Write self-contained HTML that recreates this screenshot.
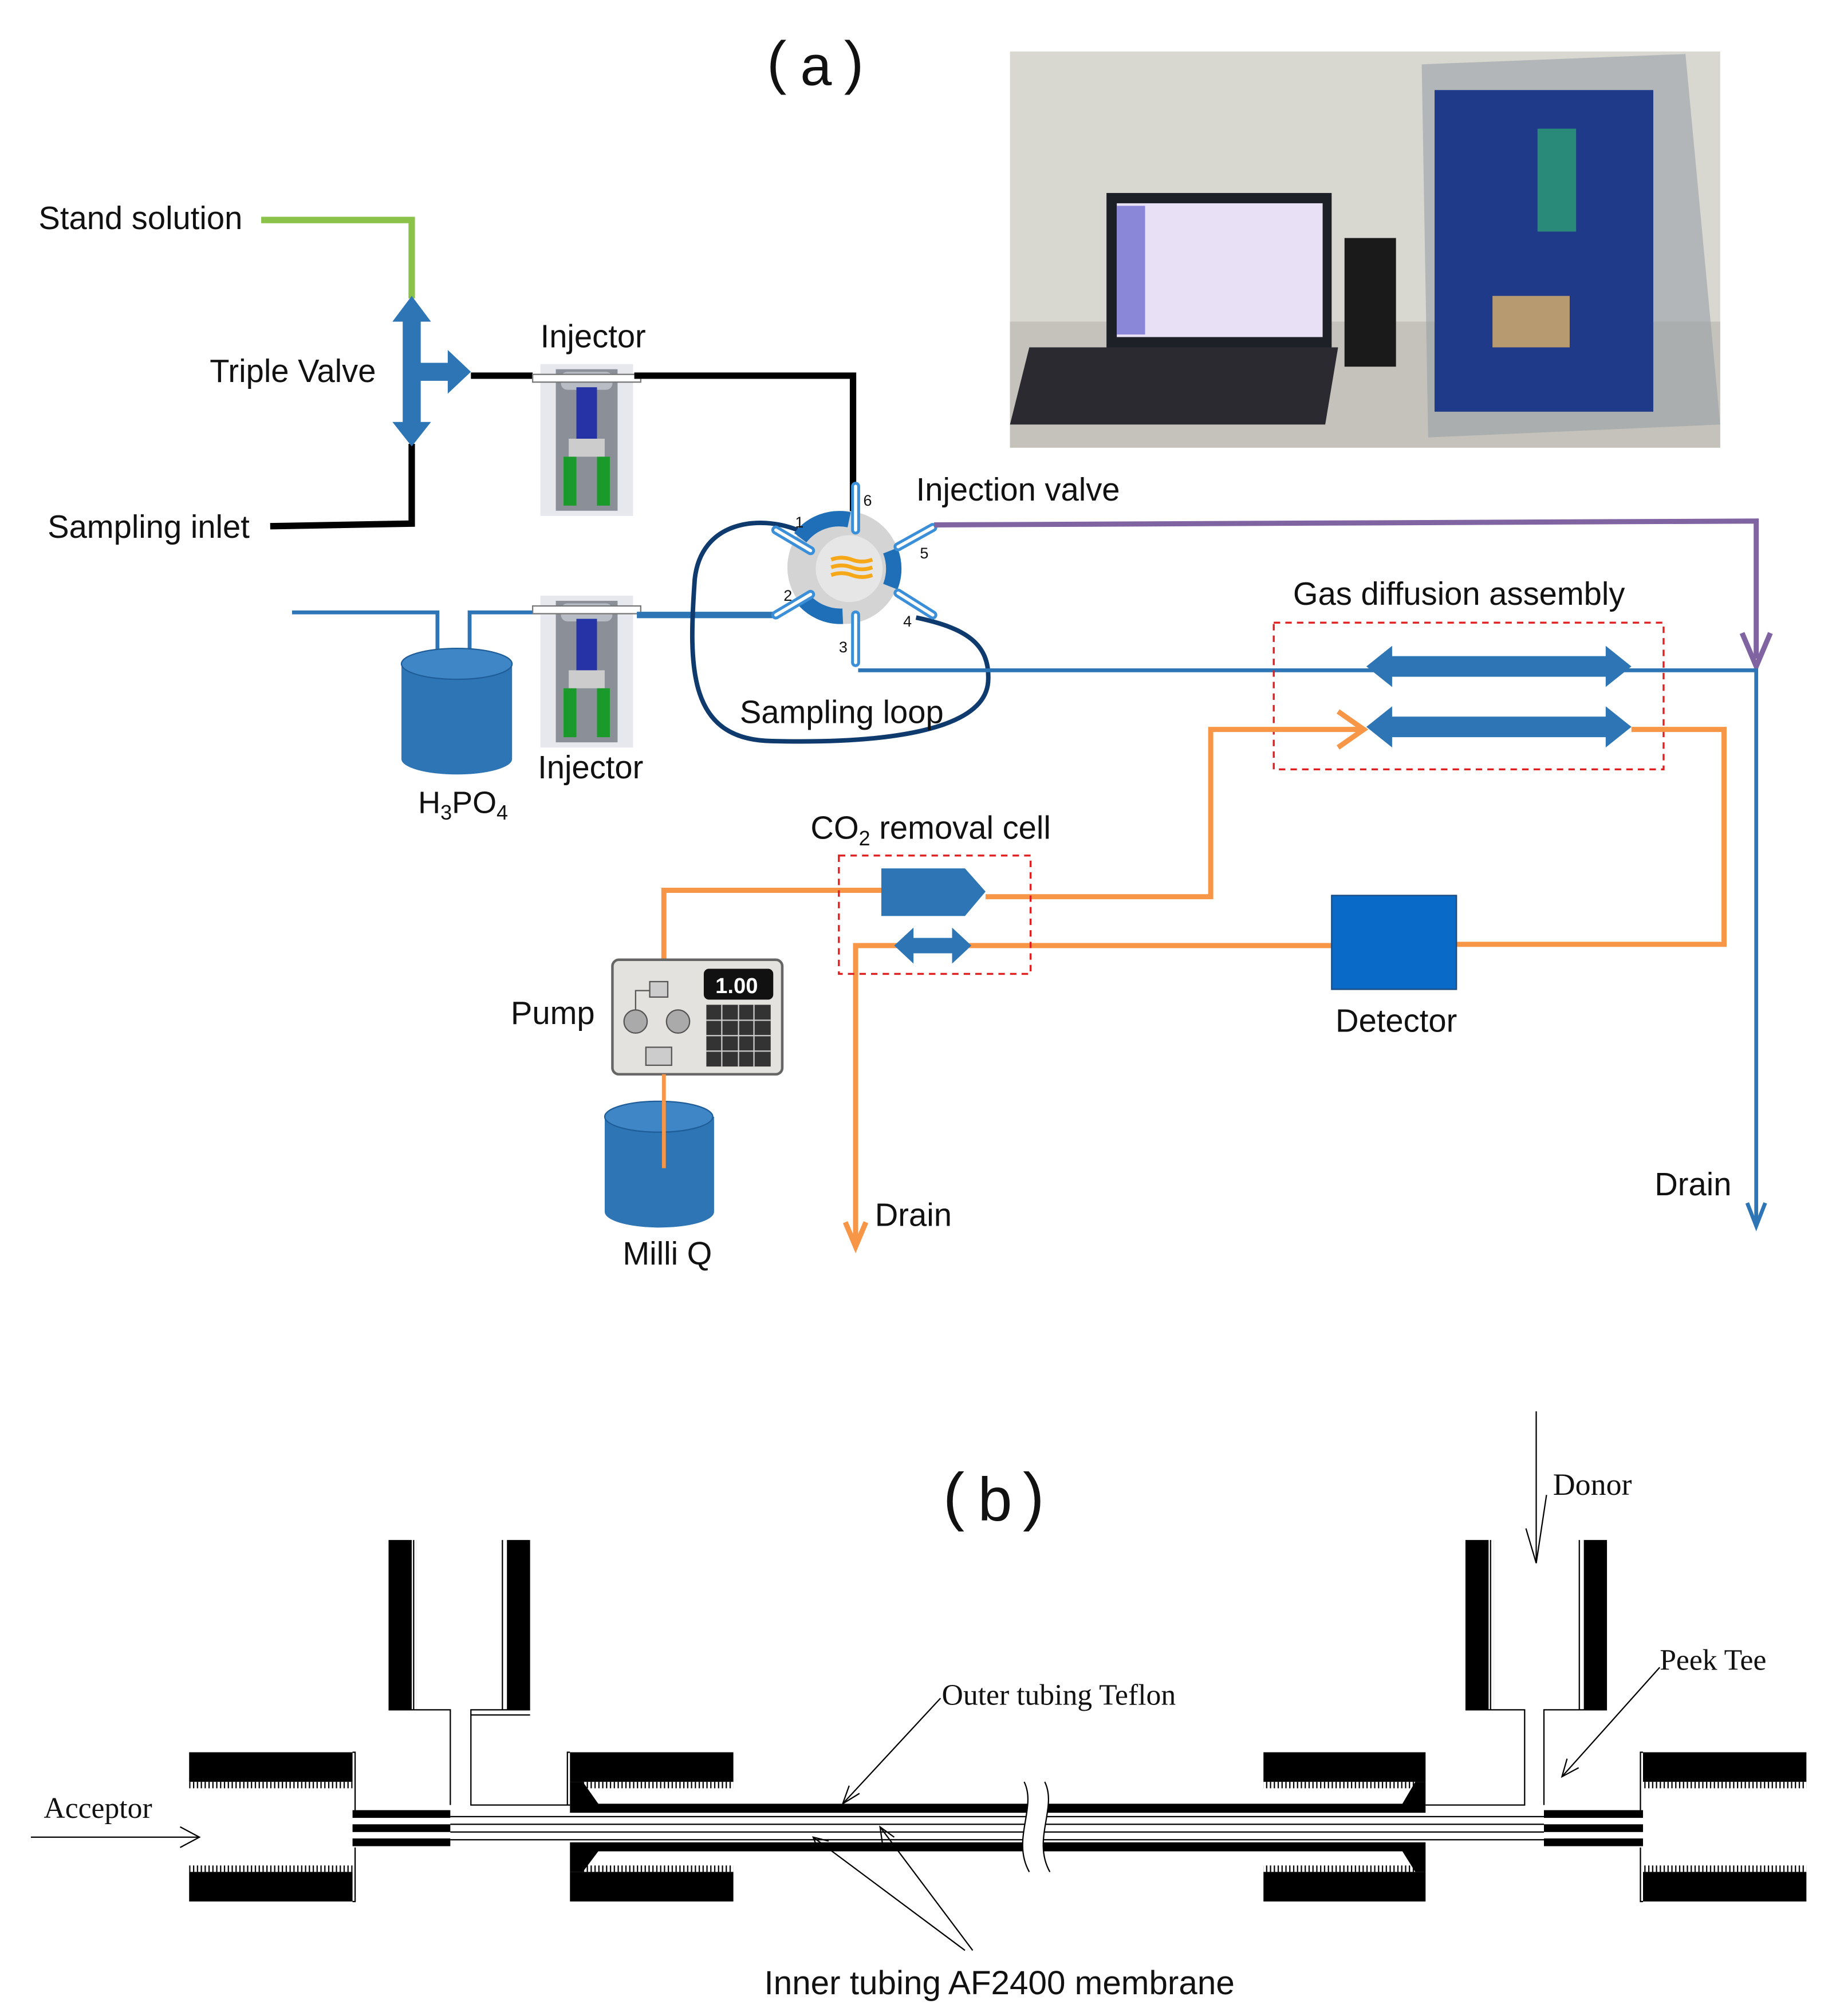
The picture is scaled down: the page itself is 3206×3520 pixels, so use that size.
<!DOCTYPE html>
<html><head><meta charset="utf-8"><style>
html,body{margin:0;padding:0;background:#fff;}
svg{display:block}
.s{font-family:"Liberation Sans","DejaVu Sans",sans-serif;fill:#111}
.r{font-family:"Liberation Serif",serif;fill:#111}
</style></head><body>
<svg width="3206" height="3520" viewBox="0 0 1427 1567" preserveAspectRatio="none" xmlns="http://www.w3.org/2000/svg">
<defs>
<pattern id="hatch" width="3" height="8" patternUnits="userSpaceOnUse"><rect width="1" height="8" fill="#000"/></pattern>
<g id="inj">
<rect x="0" y="0" width="72" height="118" fill="#e6e8ee"/>
<rect x="12" y="4" width="48" height="110" fill="#8a8f98"/>
<rect x="16" y="6" width="40" height="14" rx="5" fill="#b8bcc4"/>
<rect x="-6" y="8" width="84" height="6" fill="#fff" stroke="#777"/>
<rect x="28" y="18" width="16" height="42" fill="#2633a6"/>
<rect x="22" y="58" width="28" height="14" fill="#ccc"/>
<rect x="18" y="72" width="10" height="38" fill="#1a9a2a"/>
<rect x="44" y="72" width="10" height="38" fill="#1a9a2a"/>
</g>
</defs>

<text x="596" y="64" class="s" font-size="46">(</text>
<text x="622" y="66" class="s" font-size="44">a</text>
<text x="656" y="64" class="s" font-size="46">)</text>

<rect x="785" y="40" width="552" height="308" fill="#d9d8d0"/>
<rect x="785" y="250" width="552" height="98" fill="#c4c2ba"/>
<rect x="860" y="150" width="175" height="120" fill="#1e2028"/>
<rect x="868" y="158" width="160" height="104" fill="#e8e0f5"/>
<rect x="868" y="160" width="22" height="100" fill="#8a86d8"/>
<polygon points="800,270 1040,270 1030,330 785,330" fill="#2a2a30"/>
<rect x="1045" y="185" width="40" height="100" fill="#1a1a1a"/>
<polygon points="1105,50 1310,42 1337,330 1110,340" fill="#9aa0a8" opacity="0.6"/>
<rect x="1115" y="70" width="170" height="250" fill="#1e3a88"/>
<rect x="1195" y="100" width="30" height="80" fill="#2a8a7a"/>
<rect x="1160" y="230" width="60" height="40" fill="#b89a70"/>

<text x="30" y="178" class="s" font-size="25">Stand solution</text>
<polyline points="203,171 320,171 320,232" fill="none" stroke="#8bc34a" stroke-width="5"/>
<text x="37" y="418" class="s" font-size="25">Sampling inlet</text>
<polyline points="210,409 320,407 320,345" fill="none" stroke="#000" stroke-width="5"/>
<text x="163" y="297" class="s" font-size="25">Triple Valve</text>
<g fill="#2e75b6">
<rect x="313" y="245" width="14" height="88"/>
<polygon points="320,230 305,250 335,250"/>
<polygon points="320,347 305,328 335,328"/>
<rect x="325" y="282" width="25" height="14"/>
<polygon points="366,289 348,272 348,306"/>
</g>
<polyline points="366,292 414,292" fill="none" stroke="#000" stroke-width="5"/>
<text x="420" y="270" class="s" font-size="25">Injector</text>
<use href="#inj" x="420" y="283"/>
<polyline points="493,292 663,292 663,405" fill="none" stroke="#000" stroke-width="5"/>

<polyline points="227,476 340,476 340,556" fill="none" stroke="#2e75b6" stroke-width="3"/>
<polyline points="420,476 365,476 365,556" fill="none" stroke="#2e75b6" stroke-width="3"/>
<path d="M312,516 L312,590 A43,12 0 0 0 398,590 L398,516 Z" fill="#2e75b6"/>
<ellipse cx="355" cy="516" rx="43" ry="12" fill="#3e86c6" stroke="#1f5d99"/>
<text x="325" y="632" class="s" font-size="24">H<tspan font-size="16" dy="5">3</tspan><tspan dy="-5">PO</tspan><tspan font-size="16" dy="5">4</tspan></text>
<use href="#inj" x="420" y="463"/>
<text x="418" y="605" class="s" font-size="25">Injector</text>
<line x1="495" y1="478" x2="605" y2="478" stroke="#2e75b6" stroke-width="5"/>

<path d="M620,412 C590,400 545,405 540,450 C535,520 535,575 600,576 C680,578 765,570 768,530 C770,500 750,488 712,480" fill="none" stroke="#0e3a6e" stroke-width="3.5"/>
<text x="575" y="562" class="s" font-size="25">Sampling loop</text>

<circle cx="656" cy="441" r="44" fill="#d4d4d4"/>
<path d="M622,418 A38,38 0 0 1 660,404" stroke="#1f6fb8" stroke-width="12" fill="none"/>
<path d="M623,464 A38,38 0 0 0 655,479" stroke="#1f6fb8" stroke-width="12" fill="none"/>
<path d="M692,428 A38,38 0 0 1 692,456" stroke="#1f6fb8" stroke-width="12" fill="none"/>
<circle cx="660" cy="442" r="26" fill="#e6e6e6"/>
<g stroke="#f7a818" stroke-width="3" fill="none"><path d="M646,435 q8,-3 16,0 t16,0"/><path d="M646,441 q8,-3 16,0 t16,0"/><path d="M646,447 q8,-3 16,0 t16,0"/></g>
<g stroke="#3a8fd8" stroke-width="7" stroke-linecap="round"><line x1="665" y1="378" x2="665" y2="412"/><line x1="603" y1="412" x2="630" y2="428"/><line x1="603" y1="478" x2="630" y2="462"/><line x1="665" y1="478" x2="665" y2="515"/><line x1="725" y1="410" x2="698" y2="425"/><line x1="725" y1="478" x2="698" y2="461"/></g>
<g stroke="#fff" stroke-width="2.5" stroke-linecap="round"><line x1="665" y1="378" x2="665" y2="412"/><line x1="603" y1="412" x2="630" y2="428"/><line x1="603" y1="478" x2="630" y2="462"/><line x1="665" y1="478" x2="665" y2="515"/><line x1="725" y1="410" x2="698" y2="425"/><line x1="725" y1="478" x2="698" y2="461"/></g>
<g class="s" font-size="12"><text x="671" y="393">6</text><text x="618" y="410">1</text><text x="715" y="434">5</text><text x="609" y="467">2</text><text x="702" y="487">4</text><text x="652" y="507">3</text></g>
<text x="712" y="389" class="s" font-size="25">Injection valve</text>

<polyline points="726,408 1365,405 1365,512" fill="none" stroke="#8064a2" stroke-width="4"/>
<polyline points="1354,492 1365,518 1376,492" fill="none" stroke="#8064a2" stroke-width="4"/>

<polyline points="667,521 1365,521 1365,952" fill="none" stroke="#2e75b6" stroke-width="3"/>
<polyline points="1358,935 1365,953 1372,935" fill="none" stroke="#2e75b6" stroke-width="3"/>
<text x="1286" y="929" class="s" font-size="25">Drain</text>

<text x="1005" y="470" class="s" font-size="25">Gas diffusion assembly</text>
<rect x="990" y="484" width="303" height="114" fill="none" stroke="#e02020" stroke-width="1.5" stroke-dasharray="5,4"/>
<g fill="#2e75b6">
<polygon points="1062,518 1082,502 1082,510 1248,510 1248,502 1268,518 1248,534 1248,526 1082,526 1082,534"/>
<polygon points="1062,565 1082,549 1082,557 1248,557 1248,549 1268,565 1248,581 1248,573 1082,573 1082,581"/>
</g>

<polyline points="516,752 516,692 686,692" fill="none" stroke="#f79646" stroke-width="4"/>
<polyline points="766,697 941,697 941,567 1060,567" fill="none" stroke="#f79646" stroke-width="4"/>
<polyline points="1040,553 1060,567 1040,581" fill="none" stroke="#f79646" stroke-width="4"/>
<polyline points="1268,567 1340,567 1340,734 1132,734" fill="none" stroke="#f79646" stroke-width="4"/>
<polyline points="1035,735 665,735 665,968" fill="none" stroke="#f79646" stroke-width="4"/>
<polyline points="657,950 665,969 673,950" fill="none" stroke="#f79646" stroke-width="4"/>
<polygon points="685,675 750,675 766,693 750,712 685,712" fill="#2e75b6"/>
<polygon points="695,735 710,721 710,729 740,729 740,721 755,735 740,749 740,741 710,741 710,749" fill="#2e75b6"/>
<rect x="652" y="665" width="149" height="92" fill="none" stroke="#e02020" stroke-width="1.5" stroke-dasharray="5,4"/>
<text x="630" y="652" class="s" font-size="25">CO<tspan font-size="16" dy="5">2</tspan><tspan dy="-5"> removal cell</tspan></text>
<rect x="1035" y="696" width="97" height="73" fill="#0a6ac8" stroke="#1a4a80"/>
<text x="1038" y="802" class="s" font-size="25">Detector</text>
<text x="680" y="953" class="s" font-size="25">Drain</text>

<text x="397" y="796" class="s" font-size="25">Pump</text>
<rect x="476" y="746" width="132" height="89" rx="5" fill="#e4e2de" stroke="#666" stroke-width="2"/>
<rect x="547" y="753" width="54" height="24" rx="4" fill="#111"/>
<text x="556" y="772" font-family="Liberation Sans,sans-serif" font-weight="bold" font-size="17" fill="#fff">1.00</text>
<rect x="549" y="781" width="50" height="48" fill="#333"/>
<g stroke="#ccc" stroke-width="1"><line x1="549" y1="793" x2="599" y2="793"/><line x1="549" y1="805" x2="599" y2="805"/><line x1="549" y1="817" x2="599" y2="817"/><line x1="561" y1="781" x2="561" y2="829"/><line x1="574" y1="781" x2="574" y2="829"/><line x1="586" y1="781" x2="586" y2="829"/></g>
<circle cx="494" cy="794" r="9" fill="#aaa" stroke="#555"/><circle cx="527" cy="794" r="9" fill="#aaa" stroke="#555"/>
<rect x="505" y="763" width="14" height="12" fill="#ccc" stroke="#555"/><rect x="502" y="814" width="20" height="14" fill="#ccc" stroke="#555"/>
<polyline points="494,785 494,770 505,770 M519,770 527,770 527,785 M494,803 494,820 502,820 M522,820 527,820 527,803" fill="none" stroke="#555"/>
<path d="M470,868 L470,942 A42,12 0 0 0 555,942 L555,868 Z" fill="#2e75b6"/>
<ellipse cx="512" cy="868" rx="42" ry="12" fill="#3e86c6" stroke="#1f5d99"/>
<line x1="516" y1="835" x2="516" y2="908" stroke="#f79646" stroke-width="3"/>
<text x="484" y="983" class="s" font-size="25">Milli Q</text>

<text x="733" y="1180" class="s" font-size="50">(</text>
<text x="760" y="1182" class="s" font-size="48">b</text>
<text x="795" y="1180" class="s" font-size="50">)</text>
<line x1="1194" y1="1097" x2="1194" y2="1215" stroke="#000" stroke-width="1"/>
<polyline points="1186,1188 1194,1215 1202,1162" fill="none" stroke="#000" stroke-width="1"/>
<text x="1207" y="1162" class="r" font-size="24">Donor</text>

<g fill="#000">
<rect x="302" y="1197" width="18" height="132"/><rect x="320" y="1197" width="4" height="132" fill="url(#hatch)"/>
<rect x="394" y="1197" width="18" height="132"/><rect x="389" y="1197" width="4" height="132" fill="url(#hatch)"/>
<rect x="1139" y="1197" width="18" height="132"/><rect x="1157" y="1197" width="4" height="132" fill="url(#hatch)"/>
<rect x="1231" y="1197" width="18" height="132"/><rect x="1226" y="1197" width="4" height="132" fill="url(#hatch)"/>
</g>
<g fill="none" stroke="#000" stroke-width="1">
<polyline points="302,1329 350,1329 350,1403"/><polyline points="412,1329 366,1329 366,1403 443,1403"/>
<line x1="366" y1="1333" x2="412" y2="1333"/>
<polyline points="1139,1329 1185,1329 1185,1403 1108,1403"/><polyline points="1249,1329 1200,1329 1200,1403"/>
<polyline points="274,1362 276,1362 276,1407"/><polyline points="274,1478 276,1478 276,1436"/>
<polyline points="1277,1362 1275,1362 1275,1407"/><polyline points="1277,1478 1275,1478 1275,1436"/>
<polyline points="443,1362 441,1362 441,1403"/>
</g>
<g fill="#000">
<rect x="147" y="1362" width="127" height="23"/><rect x="147" y="1385" width="127" height="5" fill="url(#hatch)"/>
<rect x="147" y="1455" width="127" height="23"/><rect x="147" y="1450" width="127" height="5" fill="url(#hatch)"/>
<rect x="443" y="1362" width="127" height="23"/><rect x="452" y="1385" width="118" height="5" fill="url(#hatch)"/>
<rect x="443" y="1455" width="127" height="23"/><rect x="452" y="1450" width="118" height="5" fill="url(#hatch)"/>
<rect x="982" y="1362" width="126" height="23"/><rect x="982" y="1385" width="118" height="5" fill="url(#hatch)"/>
<rect x="982" y="1455" width="126" height="23"/><rect x="982" y="1450" width="118" height="5" fill="url(#hatch)"/>
<rect x="1277" y="1362" width="127" height="23"/><rect x="1277" y="1385" width="127" height="5" fill="url(#hatch)"/>
<rect x="1277" y="1455" width="127" height="23"/><rect x="1277" y="1450" width="127" height="5" fill="url(#hatch)"/>
<polygon points="443,1385 453,1385 465,1402 1090,1402 1100,1385 1108,1385 1108,1409 443,1409"/>
<polygon points="443,1432 1108,1432 1108,1455 1100,1455 1090,1439 465,1439 453,1455 443,1455"/>
<rect x="274" y="1407" width="76" height="6"/><rect x="274" y="1418" width="76" height="6"/><rect x="274" y="1429" width="76" height="6"/>
<rect x="1200" y="1407" width="77" height="6"/><rect x="1200" y="1418" width="77" height="6"/><rect x="1200" y="1429" width="77" height="6"/>
</g>
<g stroke="#000" stroke-width="1"><line x1="350" y1="1412" x2="1200" y2="1412"/><line x1="350" y1="1418" x2="1200" y2="1418"/><line x1="350" y1="1424" x2="1200" y2="1424"/><line x1="350" y1="1430" x2="1200" y2="1430"/></g>
<path d="M796,1385 C806,1405 786,1430 800,1455 L816,1455 C802,1430 822,1405 812,1385 Z" fill="#fff"/>
<path d="M796,1385 C806,1405 786,1430 800,1455 M812,1385 C822,1405 802,1430 816,1455" fill="none" stroke="#000" stroke-width="1"/>

<g stroke="#000" stroke-width="1" fill="none">
<line x1="731" y1="1320" x2="655" y2="1402"/><polyline points="660,1388 655,1402 668,1394"/>
<line x1="1290" y1="1296" x2="1214" y2="1381"/><polyline points="1218,1367 1214,1381 1227,1374"/>
<line x1="24" y1="1428" x2="155" y2="1428"/><polyline points="140,1420 155,1428 140,1436"/>
<line x1="756" y1="1516" x2="684" y2="1420"/><polyline points="686,1434 684,1420 695,1428"/>
<line x1="750" y1="1516" x2="632" y2="1428"/><polyline points="636,1438 632,1428 644,1431"/>
</g>
<text x="732" y="1325" class="r" font-size="23">Outer tubing Teflon</text>
<text x="1290" y="1298" class="r" font-size="23">Peek Tee</text>
<text x="34" y="1413" class="r" font-size="23">Acceptor</text>
<text x="594" y="1550" class="s" font-size="26">Inner tubing AF2400 membrane</text>
</svg>
</body></html>
